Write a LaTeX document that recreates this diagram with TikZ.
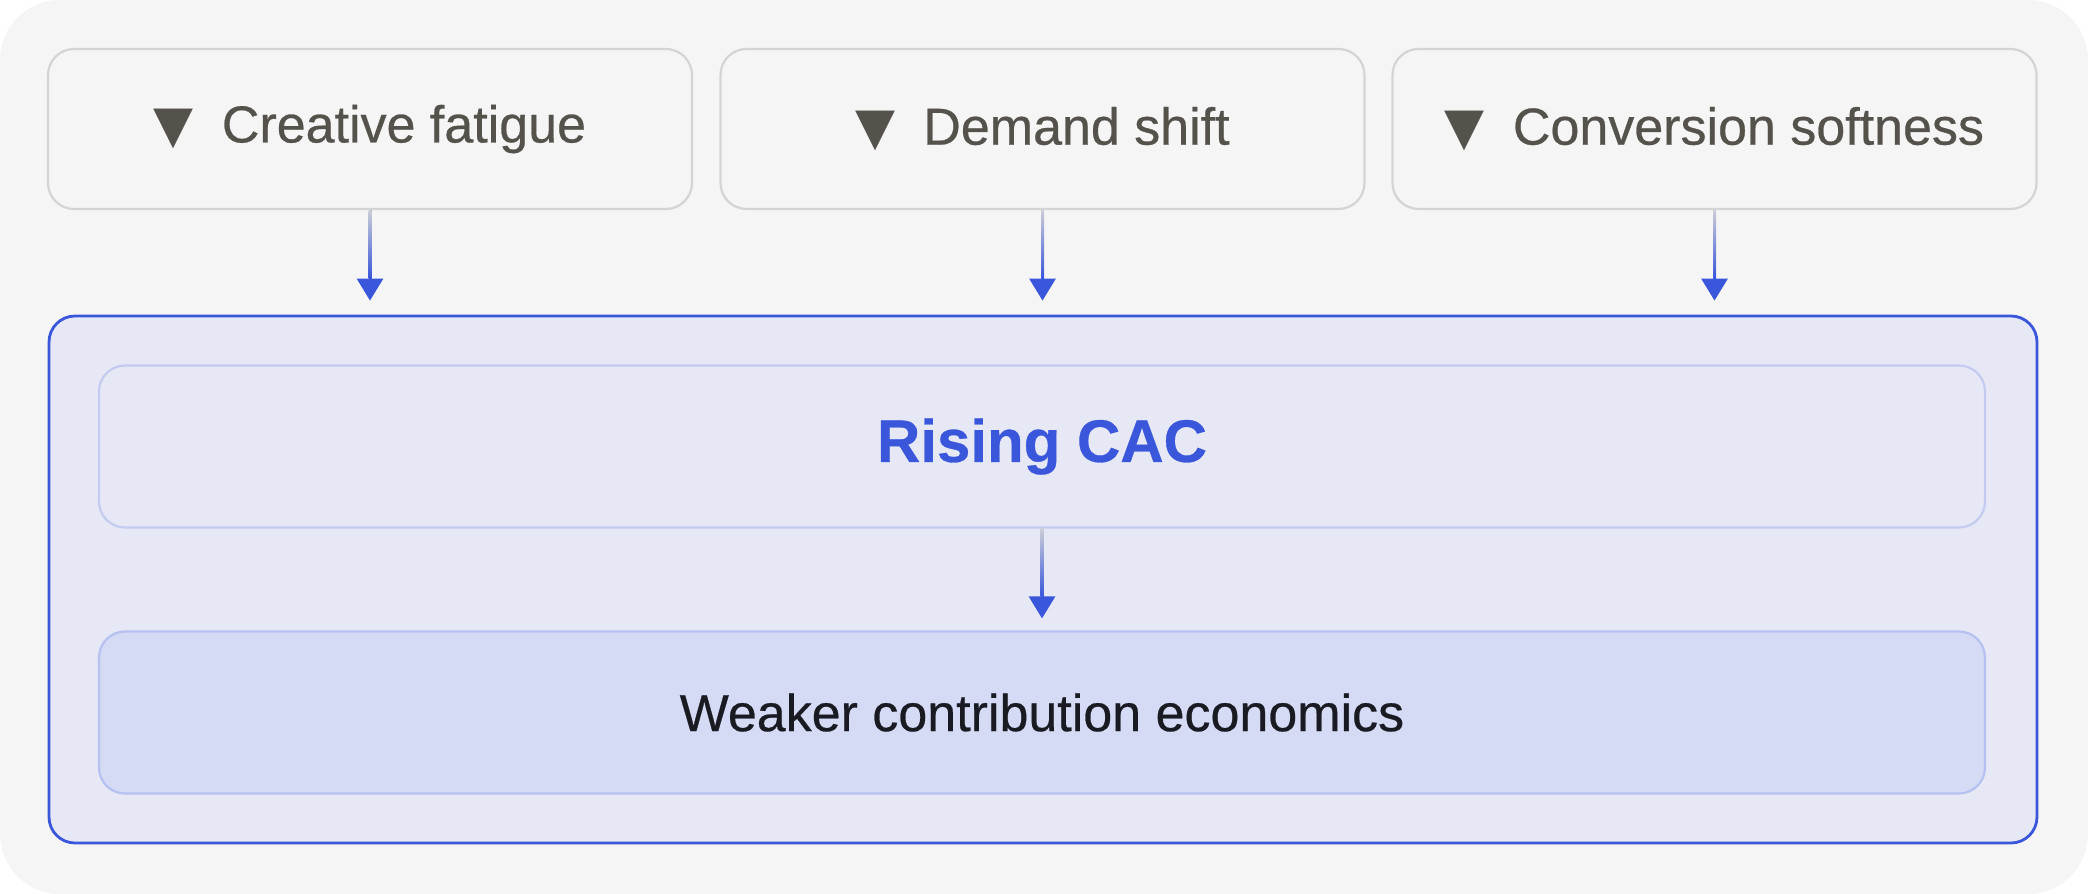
\documentclass[tikz,border=0pt]{standalone}
\usepackage{fontspec}
\setmainfont{Liberation Sans}[FakeBold=0.5]
\newfontfamily\trifont{DejaVu Sans}
\usetikzlibrary{arrows.meta}
\definecolor{bgray}{HTML}{F5F5F5}
\definecolor{boxline}{HTML}{D4D4D4}
\definecolor{txtgray}{HTML}{55524C}
\definecolor{cacblue}{HTML}{3A56DB}
\definecolor{panel}{HTML}{E6E9F5}
\definecolor{panelline}{HTML}{C3CBF0}
\definecolor{weakfill}{HTML}{D5DBF4}
\definecolor{weakline}{HTML}{B5C1F0}
\definecolor{darktxt}{HTML}{1A1B22}
\definecolor{fadegray}{HTML}{CBCDD8}
\tikzset{
  factor/.style={draw=boxline, line width=1.1pt, fill=bgray, rounded corners=13pt,
    minimum width=322pt, minimum height=80pt, text=txtgray, font=\fontsize{26}{30}\selectfont},
  inner/.style={draw=panelline, line width=1.1pt, fill=panel, rounded corners=13pt,
    minimum width=943pt, minimum height=81pt},
  flow/.style={draw=cacblue, line width=1.5pt, -{Triangle[width=13pt,length=11pt]}},
  fadeline/.style={top color=fadegray, middle color=cacblue, bottom color=cacblue}
}
\newcommand{\down}{{\trifont\char"25BC}\hspace{14pt}}
\newcommand{\fadetop}[1]{\shade[fadeline] ([xshift=-0.75pt]#1.south) rectangle ([xshift=0.75pt,yshift=-34pt]#1.south);}
\begin{document}
\begin{tikzpicture}[x=0.5pt,y=-0.5pt]
\useasboundingbox (0,0) rectangle (2088,894);
\fill[bgray, rounded corners=30pt] (0,0) rectangle (2088,894);
% three causes
\node[factor] (fatigue) at (370,129) {\down Creative fatigue};
\node[factor] (demand) at (1042.5,129) {\down Demand shift};
\node[factor] (conv) at (1714.5,129) {\down Conversion softness};
% container
\node[draw=cacblue, line width=1.4pt, fill=panel, rounded corners=13pt,
  minimum width=994pt, minimum height=263.5pt] (effect) at (1043,579.5) {};
\node[inner, text=cacblue, font=\bfseries\fontsize{30}{34}\selectfont] (cac) at (1042,446.5) {Rising CAC};
\node[inner, draw=weakline, fill=weakfill, text=darktxt, font=\fontsize{26}{30}\selectfont] (weak) at (1042,712.5) {Weaker contribution economics};
% arrows
\draw[flow] (fatigue.south) -- ([yshift=7pt]effect.north -| fatigue.south);
\draw[flow] (demand.south) -- ([yshift=7pt]effect.north -| demand.south);
\draw[flow] (conv.south) -- ([yshift=7pt]effect.north -| conv.south);
\draw[flow] (cac.south) -- ([yshift=6pt]weak.north);
\fadetop{fatigue}
\fadetop{demand}
\fadetop{conv}
\fadetop{cac}
\end{tikzpicture}
\end{document}
